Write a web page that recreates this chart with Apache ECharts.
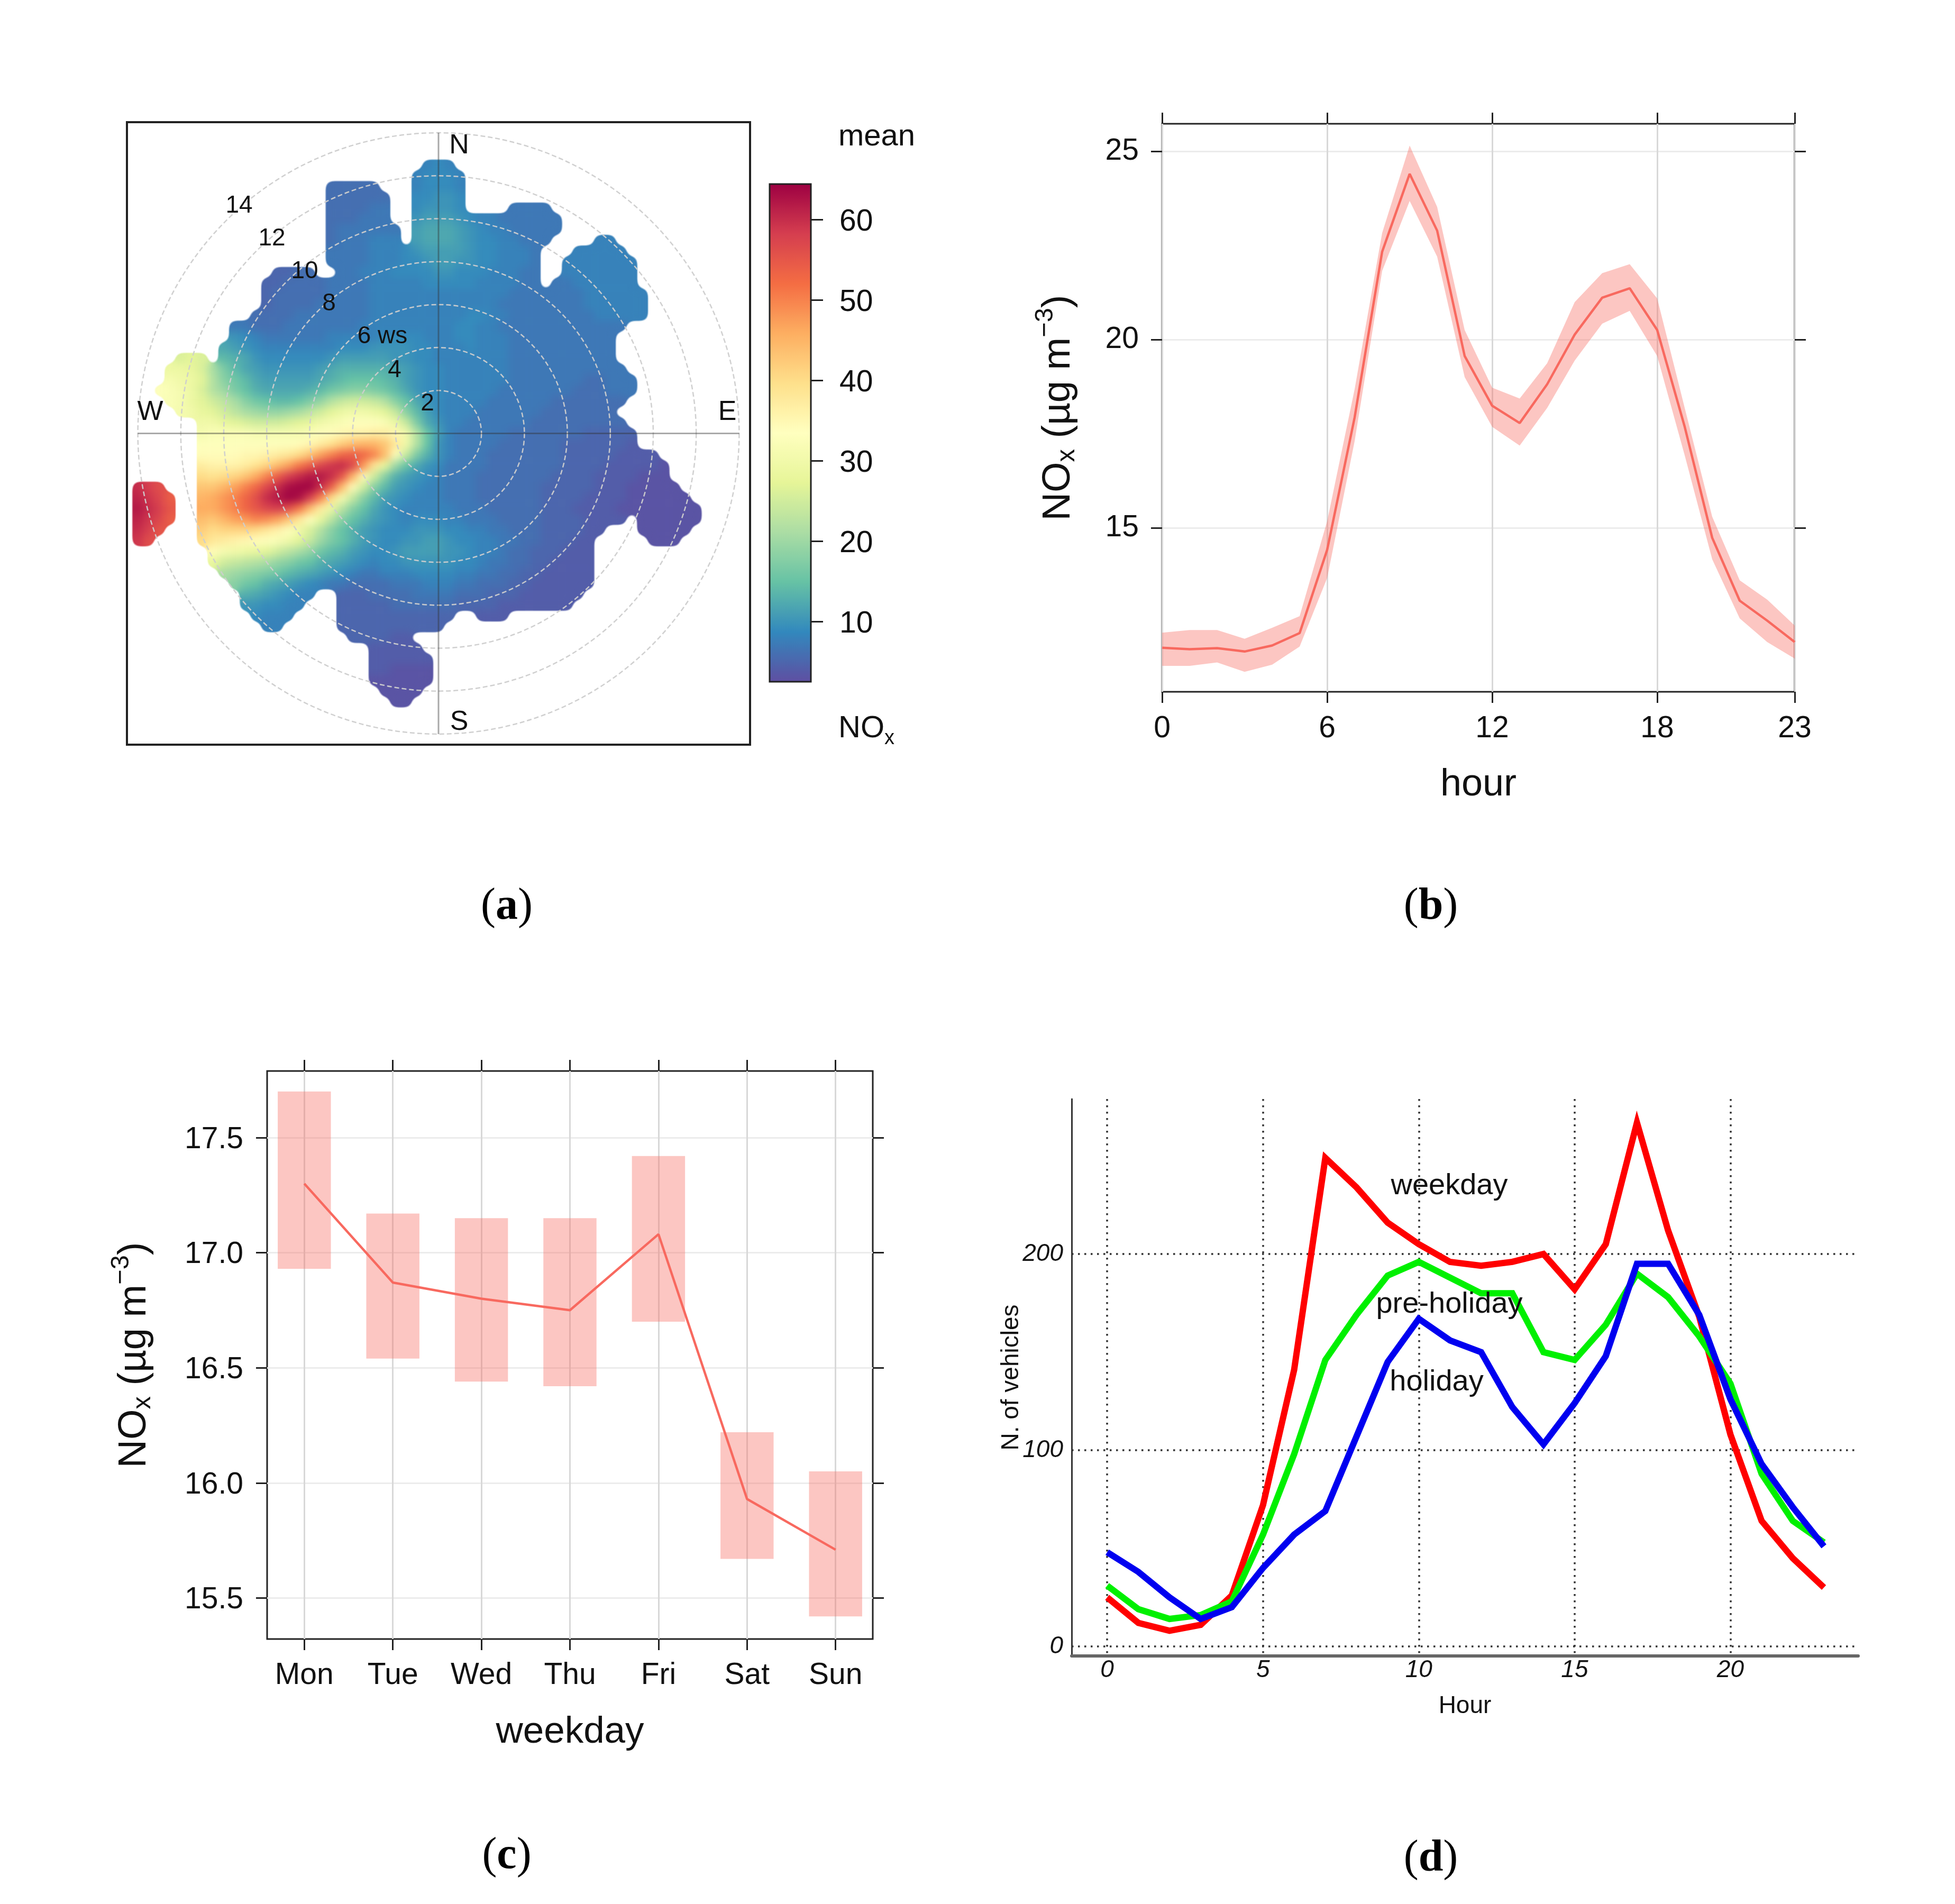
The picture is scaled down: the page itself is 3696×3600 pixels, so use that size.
<!DOCTYPE html>
<html>
<head>
<meta charset="utf-8">
<title>NOx panels</title>
<script src="https://cdn.jsdelivr.net/npm/echarts@6/dist/echarts.min.js"></script>
<style>
html, body { margin: 0; background: #fff; }
#heat, #main { position: absolute; left: 0; top: 0; width: 3696px; height: 3600px; }
#heat { filter: url(#soft); }
</style>
</head>
<body>
<svg width="0" height="0" style="position:absolute">
  <filter id="soft" x="0" y="0" width="100%" height="100%" color-interpolation-filters="sRGB">
    <feGaussianBlur stdDeviation="8"/>
    <feComponentTransfer><feFuncA type="linear" slope="7" intercept="-3"/></feComponentTransfer>
  </filter>
</svg>
<div id="heat"></div>
<div id="main"></div>
<script>
// panel a: polar plot values, read cell by cell (0.5 m/s cells, 0 = no data)
var noxRowV = [12.5,12,11.5,11,10.5,10,9.5,9,8.5,8,7.5,7,6.5,6,5.5,5,4.5,4,3.5,3,2.5,2,1.5,1,0.5,0,-0.5,-1,-1.5,-2,-2.5,-3,-3.5,-4,-4.5,-5,-5.5,-6,-6.5,-7,-7.5,-8,-8.5,-9,-9.5,-10,-10.5,-11,-11.5,-12,-12.5];
var noxRowStart = [-0.5,-1,-5,-5,-5,-5,-5,-5,-5,-5,-7.5,-8,-8,-8,-8.5,-9.5,-9.5,-10,-12,-12.5,-12.5,-13,-12.5,-12,-11,-11,-11,-11,-11,-11,-14,-14,-14,-14,-14,-14,-10.5,-10.5,-10,-9.5,-9,-9,-8.5,-8,-4,-3,-3,-3,-3,-2.5,-2];
var noxRows = [
[8,9,8],
[8,9,9,9,8],
[6,6,6,6,6,0,0,0,8,9,9,9,8],
[6,6,6,6,6,6,0,0,9,9,10,10,9],
[6,6,6,6,7,7,0,0,9,10,10,10,9,0,0,0,0,7,7,7,7],
[6,6,6,7,7,7,0,0,10,11,11,11,10,9,8,8,7,7,7,7,7,7],
[6,7,7,7,7,7,7,0,11,12,12,12,11,10,9,8,8,7,7,7,7,7],
[6,7,7,7,8,8,8,0,11,12,12,12,11,10,9,9,8,8,7,7,7,0,0,0,0,8,8],
[7,7,7,7,8,8,8,9,10,11,11,11,11,10,9,9,8,8,8,7,0,0,0,8,8,8,8,8],
[7,7,7,7,8,8,8,9,9,10,11,11,10,10,9,9,8,8,8,7,0,0,8,8,8,8,8,8,8],
[5,5,6,6,0,0,7,7,8,8,8,9,9,9,9,10,10,9,9,9,8,8,8,7,7,0,0,8,8,8,8,8,8,8],
[5,5,6,6,6,6,7,7,7,7,8,8,8,8,8,9,9,9,9,9,8,8,8,8,7,7,0,7,7,8,8,8,8,8,8],
[5,6,6,6,6,6,7,7,7,7,8,8,8,8,8,8,8,8,8,8,8,8,8,7,7,7,7,7,7,7,8,8,8,8,8,8],
[5,6,6,6,6,7,7,7,7,7,8,8,8,8,8,8,8,8,8,8,8,8,7,7,7,7,7,7,7,7,8,8,8,8,8,8],
[6,6,6,6,7,7,7,7,7,7,7,8,8,8,8,8,8,8,8,8,9,9,8,8,7,7,7,7,7,7,7,7,8,8,8,8,8],
[7,7,6,6,6,7,7,7,7,7,7,7,8,8,8,8,8,8,8,8,8,9,9,8,8,7,7,7,7,7,7,7,7,7,7,7,7],
[10,9,8,7,7,7,7,7,7,8,8,8,8,8,9,9,9,9,8,8,8,9,9,8,8,8,7,7,7,7,7,7,7,7,7,7],
[12,11,10,9,8,8,8,8,8,8,8,9,9,9,10,10,10,10,9,9,8,8,8,9,8,8,8,7,7,7,7,7,7,7,7,7,7],
[26,27,26,0,14,13,12,10,9,9,9,9,9,9,10,11,11,11,11,11,10,10,9,9,8,8,8,8,8,8,8,7,7,7,7,7,7,7,7,7,7],
[29,29,28,26,21,17,14,12,11,10,10,10,10,10,11,12,13,13,13,13,13,12,11,10,9,9,8,8,8,8,8,8,7,7,7,7,7,7,7,7,7,7,7],
[31,30,29,27,22,18,16,14,12,11,11,11,11,11,12,13,14,15,15,15,14,13,11,10,9,9,8,8,8,8,8,8,7,7,7,7,7,7,7,6,6,7,7,7],
[33,32,31,29,26,22,20,17,15,13,12,12,12,12,13,14,16,17,18,18,17,16,14,12,10,9,9,8,8,8,8,8,7,7,7,7,7,7,7,6,6,6,7,7,7],
[32,31,29,27,25,23,21,18,16,15,14,14,15,17,19,22,24,25,25,24,22,18,15,12,10,9,8,8,8,8,7,7,7,7,7,7,6,6,6,6,6,6,6],
[31,30,28,27,25,23,21,20,19,19,20,21,23,25,27,29,30,30,29,27,24,18,14,11,9,8,8,8,7,7,7,7,7,7,6,6,6,6,6,6,6],
[30,30,28,27,26,25,25,25,26,27,28,30,31,32,33,33,33,32,29,24,17,12,10,8,8,7,7,7,7,7,7,6,6,6,6,6,6,6,6,6],
[31,32,32,32,32,31,31,31,31,31,32,33,34,35,36,36,37,37,35,30,22,15,11,8,7,7,7,7,7,6,6,6,6,6,6,6,5,5,5,5,5],
[33,33,33,33,33,33,33,33,33,34,35,37,39,42,44,45,45,43,38,30,22,15,10,8,7,7,7,7,6,6,6,6,6,6,5,5,5,5,5,5,4],
[34,34,34,34,35,35,36,37,38,40,43,47,50,53,54,53,50,44,33,24,17,13,10,8,7,7,7,6,6,6,6,6,6,6,5,5,5,5,5,4,4,4,4],
[37,36,36,36,37,39,41,44,47,51,54,57,59,60,57,48,38,28,20,15,12,10,9,7,7,7,7,6,6,6,6,6,6,6,5,5,5,5,4,4,4,4,4,3],
[40,39,40,41,43,46,50,54,58,60,62,62,60,55,45,34,25,18,13,11,10,9,8,7,7,7,6,6,6,6,6,6,6,5,5,5,5,4,4,4,4,3,3,3],
[60,58,56,0,0,0,43,43,45,47,50,53,57,60,63,64,64,60,54,44,34,25,18,14,11,10,9,8,8,7,7,7,6,6,6,6,6,6,5,5,5,5,5,4,4,4,3,3,3,3,3],
[61,59,57,54,0,0,45,46,48,50,53,56,60,62,64,63,58,50,40,31,24,18,14,11,10,9,8,8,8,7,7,7,6,6,6,6,6,6,5,5,5,5,4,4,4,4,3,3,3,3,3,3],
[62,60,58,55,0,0,46,46,48,50,53,55,57,58,56,51,44,37,29,23,18,15,12,10,9,8,8,8,8,8,7,7,7,6,6,6,6,6,5,5,5,4,4,4,4,3,3,3,3,3,3,3,3],
[61,59,57,54,0,0,44,43,45,47,48,50,49,47,43,38,33,28,23,18,15,13,11,10,9,8,9,9,9,8,8,7,7,7,6,6,6,6,5,5,5,5,4,4,4,4,0,3,3,3,3,3,3],
[60,58,55,0,0,0,42,40,41,41,41,40,38,36,33,30,26,22,18,15,13,11,10,9,9,9,10,10,10,9,9,8,8,7,7,6,6,6,5,5,5,5,4,4,0,0,0,3,3,3,3,3],
[59,56,0,0,0,0,40,38,37,36,35,34,33,32,30,27,24,20,17,15,13,11,10,9,9,10,10,11,11,10,9,9,8,8,7,7,6,6,5,5,5,4,4,0,0,0,0,0,3,3,3],
[34,31,30,29,28,27,25,23,21,19,16,14,13,11,10,9,9,10,11,11,11,11,10,10,9,8,8,7,6,6,5,5,5,4,4,4],
[28,25,24,23,22,21,19,18,16,15,13,12,11,10,9,8,9,9,10,10,10,10,10,9,9,8,7,7,6,6,5,5,4,4,4,4],
[21,20,19,18,17,16,14,13,12,11,10,9,8,7,7,8,8,8,9,9,9,9,8,8,7,7,6,6,5,5,4,4,4,4,4],
[18,16,15,13,12,11,10,9,8,7,7,6,6,6,6,7,7,7,8,8,8,7,7,6,6,6,5,5,4,4,4,4,4,4],
[13,12,11,10,9,8,8,0,0,5,5,5,6,6,6,6,7,7,7,7,6,6,6,5,5,5,4,4,4,4,4,4],
[10,10,9,9,8,8,0,0,0,5,5,5,5,5,6,6,6,6,6,6,5,5,5,5,4,4,4,4,4,4,4],
[9,8,8,8,0,0,0,0,5,5,5,5,5,5,5,5,5,5,5,0,0,4,4,4],
[8,8,0,0,0,0,0,5,5,5,5,5,5,5,5,5,5],
[5,5,5,5,4,4],
[4,4,4,4,4],
[4,4,4,4,4,4],
[4,4,3,3,3,3],
[3,3,3,3,3,3],
[3,3,3,3],
[3,3]
];
var noxTicks = [10, 20, 30, 40, 50, 60];
var ringLabels = ["2", "4", "6 ws", "8", "10", "12", "14"];

// panel b: hour of day
var hours = [0,1,2,3,4,5,6,7,8,9,10,11,12,13,14,15,16,17,18,19,20,21,22,23];
var hourMean = [11.82,11.78,11.81,11.72,11.88,12.21,14.42,17.94,22.34,24.41,22.9,19.57,18.25,17.79,18.82,20.14,21.12,21.37,20.26,17.69,14.74,13.07,12.54,11.97];
var hourUpper = [12.22,12.29,12.29,12.06,12.35,12.66,15.18,18.69,22.84,25.16,23.53,20.26,18.73,18.44,19.38,21.0,21.77,22.01,21.1,18.19,15.3,13.61,13.1,12.41];
var hourLower = [11.34,11.34,11.43,11.18,11.37,11.85,13.67,17.31,21.83,23.69,22.21,19.01,17.69,17.19,18.19,19.45,20.43,20.77,19.57,16.93,14.17,12.6,11.97,11.53];
var hourTicks = [15, 20, 25];

// panel c: weekday
var weekdays = ["Mon", "Tue", "Wed", "Thu", "Fri", "Sat", "Sun"];
var dayNumbers = [1, 2, 3, 4, 5, 6, 7];
var dayMean = [17.30,16.87,16.80,16.75,17.08,15.93,15.71];
var dayUpper = [17.70,17.17,17.15,17.15,17.42,16.22,16.05];
var dayLower = [16.93,16.54,16.44,16.42,16.70,15.67,15.42];
var dayTicks = [15.5, 16, 16.5, 17, 17.5];

// panel d: vehicles
var weekdayCars = [25,12,8,11,26,72,141,249,234,216,205,196,194,196,200,182,205,267,212,168,108,64,45,30];
var preHolidayCars = [31,19,14,16,23,57,98,146,169,189,196,188,180,180,150,146,164,190,178,158,134,88,64,53];
var holidayCars = [48,38,25,14,20,40,57,69,107,145,167,156,150,122,103,124,148,195,195,169,126,93,71,51];
var carHourTicks = [0, 5, 10, 15, 20];
var carTicks = [0, 100, 200];

var FONT = "Liberation Sans";
var INK = "#111";
var spectral = ["#5E4FA2","#3288BD","#66C2A5","#ABDDA4","#E6F598","#FFFFBF","#FEE08B","#FDAE61","#F46D43","#D53E4F","#9E0142"];
var SALMON = "#F8695F";
var BAND = "rgba(248,105,95,0.38)";

// heat layer sits in its own instance so only this layer gets the soft edge
var colsU = [];
for (var u = -14; u <= 12; u += 0.5) colsU.push(String(u));
var rowsV = noxRowV.slice().reverse().map(String);
var heatData = [];
noxRows.forEach(function (row, i) {
    row.forEach(function (val, j) {
        if (val > 0) {
            heatData.push([colsU.indexOf(String(noxRowStart[i] + j * 0.5)), rowsV.indexOf(String(noxRowV[i])), val]);
        }
    });
});

var heatChart = echarts.init(document.getElementById("heat"));
heatChart.setOption({
    animation: false,
    grid: { left: 250.5, top: 302, width: 1075.9, height: 1035.3 },
    xAxis: { type: "category", data: colsU, show: false },
    yAxis: { type: "category", data: rowsV, show: false },
    visualMap: { show: false, min: 2.5, max: 64.4, dimension: 2, inRange: { color: spectral } },
    series: [{ type: "heatmap", data: heatData, progressive: 0 }]
});

function nameRich(size) {
    return {
        n: { fontSize: size, lineHeight: 100, fontFamily: FONT, color: INK },
        sub: { fontSize: size * 0.66, verticalAlign: "bottom", padding: [0, 0, 10, 0], fontFamily: FONT, color: INK },
        sup: { fontSize: size * 0.66, verticalAlign: "top", fontFamily: FONT, color: INK }
    };
}
var NOX_NAME = "{n|NO}{sub|x}{n| (µg m}{sup|−3}{n|)}";

function axisBase(extra) {
    var base = {
        type: "value",
        axisLine: { show: false, onZero: false },
        axisTick: { show: true, length: 21, lineStyle: { color: "#222", width: 3 } },
        axisLabel: { show: false, fontFamily: FONT, fontSize: 57, color: INK },
        splitLine: { show: false }
    };
    for (var k in extra) {
        if (typeof extra[k] === "object" && base[k]) {
            for (var j in extra[k]) base[k][j] = extra[k][j];
        } else {
            base[k] = extra[k];
        }
    }
    return base;
}

function cellLabel(x, y, text, size) {
    return {
        type: "text", z: 50,
        style: { x: x, y: y, text: text, align: "center", verticalAlign: "middle", fontFamily: FONT, fontSize: size, fill: INK }
    };
}

var graphics = [
    { type: "rect", z: 40, shape: { x: 240, y: 231, width: 1178, height: 1177 }, style: { fill: "none", stroke: "#222", lineWidth: 4 } },
    cellLabel(868, 276, "N", 52), cellLabel(868, 1366, "S", 52), cellLabel(284, 780, "W", 52), cellLabel(1375, 780, "E", 52),
    cellLabel(808, 763, ringLabels[0], 46), cellLabel(746, 700, ringLabels[1], 46), cellLabel(723, 636, ringLabels[2], 46),
    cellLabel(622, 574, ringLabels[3], 46), cellLabel(576, 513, ringLabels[4], 46), cellLabel(514, 451, ringLabels[5], 46), cellLabel(452, 389, ringLabels[6], 46),
    { type: "text", z: 50, style: { x: 1585, y: 259, text: "mean", verticalAlign: "middle", fontFamily: FONT, fontSize: 58, fill: INK } },
    { type: "text", z: 50, style: { x: 1585, y: 1378, text: "{n|NO}{s|x}", verticalAlign: "middle", fontFamily: FONT, fontSize: 58, fill: INK,
        rich: { n: { fontSize: 58, lineHeight: 76, fontFamily: FONT, fill: INK }, s: { fontSize: 38, verticalAlign: "bottom", fontFamily: FONT, fill: INK } } } },
    cellLabel(2740, 2243, "weekday", 56), cellLabel(2740, 2467, "pre-holiday", 56), cellLabel(2716, 2614, "holiday", 56)
];
[["a", 958, 1715], ["b", 2705, 1715], ["c", 958, 3510], ["d", 2705, 3515]].forEach(function (c) {
    graphics.push({
        type: "text", z: 50,
        style: { x: c[1], y: c[2], text: "({b|" + c[0] + "})", align: "center", verticalAlign: "middle", fontFamily: "Liberation Serif", fontSize: 84, fill: "#000",
            rich: { b: { fontFamily: "Liberation Serif", fontSize: 84, fontWeight: "bold", fill: "#000" } } }
    });
});

var option = {
    animation: false,
    graphic: graphics,
    grid: [
        { left: 2197, top: 234, width: 1196, height: 1074, show: true, borderColor: "#222", borderWidth: 3, backgroundColor: "transparent" },
        { left: 505, top: 2025, width: 1145, height: 1074, show: true, borderColor: "#222", borderWidth: 3, backgroundColor: "transparent" },
        { left: 2026, top: 2078, width: 1487, height: 1053 },
        { left: 1455, top: 348, width: 78, height: 941, show: true, borderColor: "#222", borderWidth: 3, backgroundColor: "transparent", z: 6 }
    ],
    polar: { center: [829, 819.5], radius: 568.4 },
    angleAxis: {
        min: 0, max: 360, interval: 90, startAngle: 90,
        axisLine: { show: false }, axisTick: { show: false }, axisLabel: { show: false },
        splitLine: { show: true, lineStyle: { color: "rgba(50,50,50,0.42)", width: 3 } }
    },
    radiusAxis: {
        min: 0, max: 14, interval: 2,
        axisLine: { show: false }, axisTick: { show: false }, axisLabel: { show: false },
        splitLine: { show: true, lineStyle: { color: "rgba(205,205,205,0.95)", width: 2.5, type: [9, 5] } }
    },
    visualMap: {
        type: "continuous", min: 2.5, max: 64.4, seriesIndex: [], calculable: false, hoverLink: false,
        left: 1455, top: 348, itemWidth: 78, itemHeight: 941, padding: 0, inRange: { color: spectral }
    },
    xAxis: [
        axisBase({ gridIndex: 0, position: "bottom", min: 0, max: 23, interval: 6, axisLabel: { show: true, margin: 42 },
            splitLine: { show: true, lineStyle: { color: "#D8D8D8", width: 3 } },
            name: "hour", nameLocation: "middle", nameGap: 140, nameTextStyle: { fontFamily: FONT, fontSize: 72, color: INK } }),
        axisBase({ gridIndex: 0, position: "top", min: 0, max: 23, interval: 6 }),
        axisBase({ gridIndex: 1, position: "bottom", min: 0.58, max: 7.42, axisTick: { customValues: dayNumbers },
            axisLabel: { show: true, margin: 41, customValues: dayNumbers, formatter: function (v) { return weekdays[v - 1]; } },
            splitLine: { show: true, lineStyle: { color: "#D8D8D8", width: 3 } },
            name: "weekday", nameLocation: "middle", nameGap: 141, nameTextStyle: { fontFamily: FONT, fontSize: 71, color: INK } }),
        axisBase({ gridIndex: 1, position: "top", min: 0.58, max: 7.42, axisTick: { customValues: dayNumbers } }),
        axisBase({ gridIndex: 2, position: "bottom", min: -1.14, max: 24.1,
            axisLine: { show: true, lineStyle: { color: "#666", width: 6 } },
            axisTick: { show: false, customValues: carHourTicks },
            axisLabel: { show: true, margin: 4, fontSize: 46, fontStyle: "italic", customValues: carHourTicks },
            splitLine: { show: true, lineStyle: { color: "#333", width: 3.5, type: [3.5, 8.5] } },
            name: "Hour", nameLocation: "middle", nameGap: 72, nameMoveOverlap: false, nameTextStyle: { fontFamily: FONT, fontSize: 46, color: INK } }),
        { type: "value", gridIndex: 3, show: false, min: 0, max: 1 }
    ],
    yAxis: [
        axisBase({ gridIndex: 0, position: "left", min: 10.65, max: 25.74, axisTick: { customValues: hourTicks },
            axisLabel: { show: true, margin: 44, customValues: hourTicks },
            splitLine: { show: true, lineStyle: { color: "#ECECEC", width: 3 } },
            name: NOX_NAME, nameLocation: "middle", nameGap: 145, nameTextStyle: { rich: nameRich(74) } }),
        axisBase({ gridIndex: 0, position: "right", min: 10.65, max: 25.74, axisTick: { customValues: hourTicks } }),
        axisBase({ gridIndex: 1, position: "left", min: 15.322, max: 17.789, axisTick: { customValues: dayTicks },
            axisLabel: { show: true, margin: 45, verticalAlign: "top", lineHeight: 8, customValues: dayTicks, formatter: function (v) { return v.toFixed(1); } },
            splitLine: { show: true, lineStyle: { color: "#ECECEC", width: 3 } },
            name: NOX_NAME, nameLocation: "middle", nameGap: 200, nameTextStyle: { rich: nameRich(74) } }),
        axisBase({ gridIndex: 1, position: "right", min: 15.322, max: 17.789, axisTick: { customValues: dayTicks } }),
        axisBase({ gridIndex: 2, position: "left", min: -4.85, max: 279,
            axisLine: { show: true, lineStyle: { color: "#333", width: 3 } },
            axisTick: { show: false, customValues: carTicks },
            axisLabel: { show: true, margin: 16, fontSize: 46, fontStyle: "italic", customValues: carTicks },
            splitLine: { show: true, lineStyle: { color: "#333", width: 3.5, type: [3.5, 8.5] } },
            name: "N. of vehicles", nameLocation: "middle", nameGap: 91, nameMoveOverlap: false, nameTextStyle: { fontFamily: FONT, fontSize: 46, color: INK } }),
        axisBase({ gridIndex: 3, position: "right", min: 2.5, max: 64.4, axisTick: { customValues: noxTicks, length: 23 },
            axisLabel: { show: true, margin: 54, verticalAlign: "top", lineHeight: 10, customValues: noxTicks } })
    ],
    series: [
        { type: "custom", xAxisIndex: 0, yAxisIndex: 0, silent: true, clip: false,
          data: hours.map(function (h, i) { return [h, hourLower[i], hourUpper[i]]; }),
          encode: { x: 0, y: [1, 2] },
          renderItem: function (params, api) {
              // one polygon for the whole band, so segments do not double up the alpha
              if (params.dataIndex > 0) return null;
              var top = hours.map(function (h, i) { return api.coord([h, hourUpper[i]]); });
              var bottom = hours.map(function (h, i) { return api.coord([h, hourLower[i]]); }).reverse();
              return { type: "polygon", shape: { points: top.concat(bottom) }, style: { fill: BAND } };
          } },
        { type: "line", xAxisIndex: 0, yAxisIndex: 0, symbol: "none", lineStyle: { color: SALMON, width: 4.5 },
          data: hours.map(function (h, i) { return [h, hourMean[i]]; }) },
        { type: "custom", xAxisIndex: 2, yAxisIndex: 2, silent: true, clip: false,
          data: dayNumbers.map(function (d, i) { return [d, dayLower[i], dayUpper[i]]; }),
          encode: { x: 0, y: [1, 2] },
          renderItem: function (params, api) {
              var a = api.coord([api.value(0) - 0.3, api.value(2)]);
              var b = api.coord([api.value(0) + 0.3, api.value(1)]);
              return { type: "rect", shape: { x: a[0], y: a[1], width: b[0] - a[0], height: b[1] - a[1] }, style: { fill: BAND } };
          } },
        { type: "line", xAxisIndex: 2, yAxisIndex: 2, symbol: "none", lineStyle: { color: SALMON, width: 4.5 },
          data: dayNumbers.map(function (d, i) { return [d, dayMean[i]]; }) },
        { type: "line", xAxisIndex: 4, yAxisIndex: 4, symbol: "none", lineStyle: { color: "#FF0000", width: 12, join: "miter", cap: "butt" },
          data: hours.map(function (h, i) { return [h, weekdayCars[i]]; }) },
        { type: "line", xAxisIndex: 4, yAxisIndex: 4, symbol: "none", lineStyle: { color: "#00F000", width: 12, join: "miter", cap: "butt" },
          data: hours.map(function (h, i) { return [h, preHolidayCars[i]]; }) },
        { type: "line", xAxisIndex: 4, yAxisIndex: 4, symbol: "none", lineStyle: { color: "#0000F0", width: 12, join: "miter", cap: "butt" },
          data: hours.map(function (h, i) { return [h, holidayCars[i]]; }) }
    ]
};
var myChart = echarts.init(document.getElementById("main"));
myChart.setOption(option);
</script>
</body>
</html>
